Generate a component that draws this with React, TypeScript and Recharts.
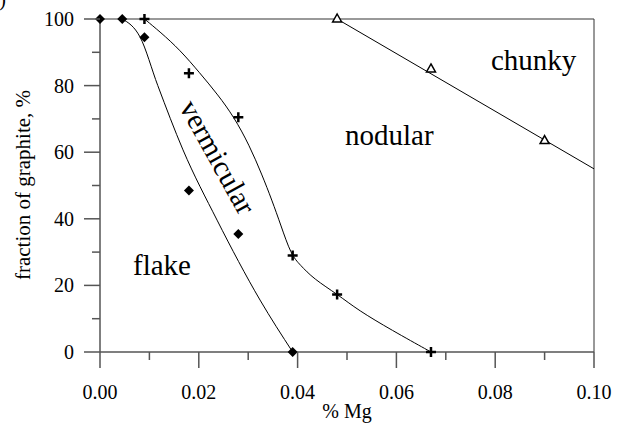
import { ComposedChart, Line, Scatter, XAxis, YAxis, ReferenceLine } from 'recharts';

const xTicks = [0, 0.01, 0.02, 0.03, 0.04, 0.05, 0.06, 0.07, 0.08, 0.09, 0.1];
const yTicks = [0, 10, 20, 30, 40, 50, 60, 70, 80, 90, 100];

// measured points
const flakePoints = [
  { x: 0, y: 100 },
  { x: 0.0045, y: 100 },
  { x: 0.009, y: 94.5 },
  { x: 0.018, y: 48.5 },
  { x: 0.028, y: 35.4 },
  { x: 0.039, y: 0 },
];
const nodularPoints = [
  { x: 0.009, y: 100 },
  { x: 0.018, y: 83.7 },
  { x: 0.028, y: 70.5 },
  { x: 0.039, y: 29 },
  { x: 0.048, y: 17.3 },
  { x: 0.067, y: 0 },
];
const chunkyPoints = [
  { x: 0.048, y: 100 },
  { x: 0.067, y: 85 },
  { x: 0.09, y: 63.5 },
];

// hand-drawn boundary curves
const flakeCurve = [
  { x: 0.0045, y: 100 },
  { x: 0.0081, y: 94.6 },
  { x: 0.0117, y: 80 },
  { x: 0.0168, y: 60.7 },
  { x: 0.0237, y: 39.6 },
  { x: 0.0324, y: 15.6 },
  { x: 0.039, y: 0 },
];
const nodularCurve = [
  { x: 0.009, y: 100 },
  { x: 0.0122, y: 96.1 },
  { x: 0.0162, y: 90.7 },
  { x: 0.0202, y: 83.8 },
  { x: 0.0239, y: 77.2 },
  { x: 0.0271, y: 70.6 },
  { x: 0.0302, y: 62.2 },
  { x: 0.0328, y: 53.2 },
  { x: 0.0348, y: 45.6 },
  { x: 0.0366, y: 38.1 },
  { x: 0.0387, y: 29.1 },
  { x: 0.0405, y: 26.2 },
  { x: 0.0432, y: 22 },
  { x: 0.0482, y: 17.2 },
  { x: 0.0522, y: 12.6 },
  { x: 0.059, y: 6.6 },
  { x: 0.067, y: 0 },
];
const chunkyLine = [
  { x: 0.048, y: 100 },
  { x: 0.1, y: 55 },
];

const FONT = "'Liberation Serif', 'Times New Roman', serif";
const AXIS = '#555';

const YTick = (props: any) => {
  const { x, y, payload } = props;
  const major = payload.value % 20 === 0;
  return (
    <g>
      <line x1={x - (major ? 16 : 8)} x2={x} y1={y} y2={y} stroke={AXIS} strokeWidth={1.5} />
      {major && (
        <text x={x - 26} y={y} dy={7} textAnchor="end" fontFamily={FONT} fontSize={20} fill="#000">
          {payload.value}
        </text>
      )}
    </g>
  );
};

const XTick = (props: any) => {
  const { x, y, index, payload } = props;
  const major = index % 2 === 0;
  return (
    <g>
      <line x1={x} x2={x} y1={y} y2={y + (major ? 16 : 8)} stroke={AXIS} strokeWidth={1.5} />
      {major && (
        <text x={x} y={y + 47} textAnchor="middle" fontFamily={FONT} fontSize={20} fill="#000">
          {payload.value.toFixed(2)}
        </text>
      )}
    </g>
  );
};

const Diamond = (p: any) => (
  <polygon
    points={`${p.cx},${p.cy - 5} ${p.cx + 5},${p.cy} ${p.cx},${p.cy + 5} ${p.cx - 5},${p.cy}`}
    fill="#000"
  />
);
const Plus = (p: any) => (
  <path d={`M${p.cx - 5},${p.cy}H${p.cx + 5}M${p.cx},${p.cy - 5}V${p.cy + 5}`} stroke="#000" strokeWidth={2.5} />
);
const Triangle = (p: any) => (
  <polygon
    points={`${p.cx},${p.cy - 5} ${p.cx + 4.5},${p.cy + 3} ${p.cx - 4.5},${p.cy + 3}`}
    fill="#fff"
    stroke="#000"
    strokeWidth={1.5}
  />
);

export default function App() {
  return (
    <div style={{ position: 'absolute', left: 0, top: 0, width: 627, height: 423, background: '#fff' }}>
      <ComposedChart width={627} height={423} margin={{ top: 19, right: 33, bottom: 21, left: 40 }}>
        <XAxis
          type="number"
          dataKey="x"
          domain={[0, 0.1]}
          ticks={xTicks}
          interval={0}
          height={50}
          tickSize={0}
          tickMargin={0}
          tickLine={false}
          tick={<XTick />}
          axisLine={{ stroke: AXIS, strokeWidth: 1.5 }}
        />
        <YAxis
          type="number"
          dataKey="y"
          domain={[0, 100]}
          ticks={yTicks}
          interval={0}
          width={60}
          tickSize={0}
          tickMargin={0}
          tickLine={false}
          tick={<YTick />}
          axisLine={{ stroke: AXIS, strokeWidth: 1.5 }}
        />
        <ReferenceLine y={100} stroke="#777" strokeWidth={1.5} />
        <ReferenceLine x={0.1} stroke="#333" strokeWidth={1} />
        <Line data={flakeCurve} dataKey="y" type="monotone" stroke="#000" strokeWidth={1} dot={false} isAnimationActive={false} />
        <Line data={nodularCurve} dataKey="y" type="basis" stroke="#000" strokeWidth={1} dot={false} isAnimationActive={false} />
        <Line data={chunkyLine} dataKey="y" type="linear" stroke="#000" strokeWidth={1} dot={false} isAnimationActive={false} />
        <Scatter data={flakePoints} dataKey="y" shape={<Diamond />} isAnimationActive={false} />
        <Scatter data={nodularPoints} dataKey="y" shape={<Plus />} isAnimationActive={false} />
        <Scatter data={chunkyPoints} dataKey="y" shape={<Triangle />} isAnimationActive={false} />
      </ComposedChart>
      <svg
        width={627}
        height={423}
        style={{ position: 'absolute', left: 0, top: 0, pointerEvents: 'none' }}
        fontFamily={FONT}
      >
        <text x={6} y={6} textAnchor="end" fontSize={20}>(a)</text>
        <text x={133} y={275} fontSize={29}>flake</text>
        <text x={345} y={145} fontSize={29}>nodular</text>
        <text x={491} y={70} fontSize={29}>chunky</text>
        <text x={218} y={157} fontSize={29} textAnchor="middle" dominantBaseline="central" transform="rotate(61 218 157)">
          vermicular
        </text>
        <text x={347} y={418} fontSize={20} textAnchor="middle">% Mg</text>
        <text x={30} y={185} fontSize={21} textAnchor="middle" transform="rotate(-90 30 185)">
          fraction of graphite, %
        </text>
      </svg>
    </div>
  );
}
